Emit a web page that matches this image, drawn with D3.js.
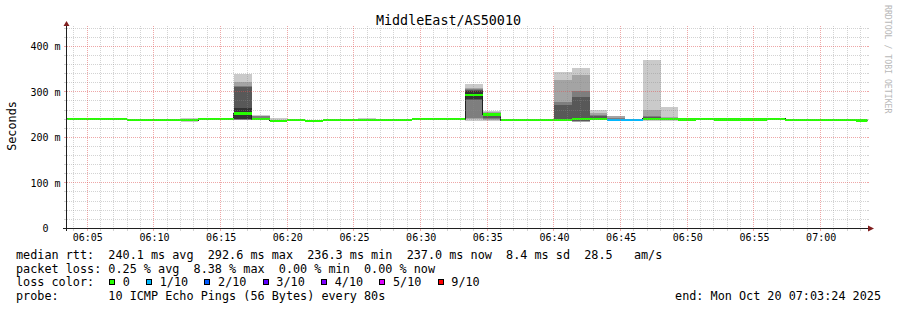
<!DOCTYPE html>
<html><head><meta charset="utf-8">
<script src="https://cdn.jsdelivr.net/npm/d3@7"></script>
<style>
html,body{margin:0;padding:0;background:#fff;}
svg{display:block;}
text{font-family:"DejaVu Sans Mono",monospace;}
</style></head><body>
<svg id="c" width="897" height="310"></svg>
<script>
// ---------------- data ----------------
const title = "MiddleEast/AS50010";
const day = "2025-10-20";
const viewStart = "06:03:30";
const viewEnd = "07:03:30";
const stepSeconds = 80;
const yMax = 446;
const binStart = ["06:02:40","06:04:00","06:05:20","06:06:40","06:08:00","06:09:20","06:10:40","06:12:00","06:13:20","06:14:40",
  "06:16:00","06:17:20","06:18:40","06:20:00","06:21:20","06:22:40","06:24:00","06:25:20","06:26:40","06:28:00",
  "06:29:20","06:30:40","06:32:00","06:33:20","06:34:40","06:36:00","06:37:20","06:38:40","06:40:00","06:41:20",
  "06:42:40","06:44:00","06:45:20","06:46:40","06:48:00","06:49:20","06:50:40","06:52:00","06:53:20","06:54:40",
  "06:56:00","06:57:20","06:58:40","07:00:00","07:01:20","07:02:40"];
// median rtt per bin (ms)
const medians = [240.5,240.5,240,240,237.5,237.5,237.5,238,240,240,
  252.5,240,236.5,237.5,236.3,237.5,237.5,238,238,238.5,
  240,240,240,292.5,250,237.5,237.5,237.5,238.5,240,
  240,238,238,241,239.5,239,241,239,239,239,
  240.5,237.5,237.5,237.5,237.5,237];
// lost pings per bin (out of 10)
const losses = [0,0,0,0,0,0,0,0,0,0, 0,0,0,0,0,0,0,0,0,0, 0,0,0,0,0,0,0,0,0,0,
  0,1,1,0,0,0,0,0,0,0, 0,0,0,0,0,0];
// sorted ping times per bin (ms), null = lost
const pings = [
  [238.5,239,239.5,240,240.5,240.5,241,241.5,242,242.5],
  [238,239,239.5,240,240.5,240.5,241,241.5,242,243],
  [238,238.5,239,239.5,240,240,240.5,241,241.5,242],
  [237.5,238.5,239,239.5,239.5,240.5,241,241,241.5,242.5],
  [235.5,236,236.5,237,237.5,237.5,238,238.5,239,239.5],
  [235,236,236.5,237,237.5,237.5,238,238,239,240],
  [235.5,236,236.5,237,237,238,238.5,238.5,239,239.5],
  [234.5,235,236,236.5,237.5,238.5,239,239.5,240,241.5],
  [238,238.5,239,239.5,240,240,240.5,241,241.5,242],
  [237.5,238.5,239,239.5,240,240,240.5,241,242,243],
  [237,238,239,240,241,264,310,312,321,340],
  [238,239,239,240,240,240,241,246,247,250],
  [234.5,235,235.5,236,236.5,236.5,237,237.5,238,243],
  [235.5,236,236.5,237,237.5,237.5,238,238.5,239,240],
  [234.5,235,235.5,236,236.3,236.3,236.5,237,237.5,238.5],
  [235.5,236,236.5,237,237.5,237.5,238,238.5,239,240],
  [235,236,236.5,237,237.5,237.5,238,238.5,239.5,240.5],
  [236,236.5,237,237.5,238,238,238.5,239,240,241.5],
  [236,236.5,237,237.5,238,238,238.5,239,239.5,240],
  [236.5,237,237.5,238,238.5,238.5,239,239.5,240,241],
  [238,238.5,239,239.5,240,240,240.5,241,241.5,242.5],
  [238,238.5,239,239.5,240,240,240.5,241,242,243],
  [237.5,238.5,239,239.5,240,240,240.5,241,241.5,242],
  [236,240,243,282,284,301,304,307,309,318],
  [236,238,240,242,248,252,253,254,255,257],
  [235.5,236,236.5,237,237.5,237.5,238,238.5,239,240],
  [235.5,236,236.5,237,237.5,237.5,238,238.5,239,239.5],
  [235,236,236.5,237,237.5,237.5,238,238.5,239,240],
  [235,236,236,237,238,239,272,278,327,343],
  [233,234,235,236,239.5,240.5,289,302,336,352],
  [237,238,238,239,239.5,240.5,247,248,254,259],
  [236,237,237.5,238,238,238.5,239,242,246,null],
  [236,237,237,237.5,238,238,238.5,239,241,null],
  [236,237,238,239,240.5,241.5,244,247,259,371],
  [236,237,238,238.5,239,240,240.5,241,244,266],
  [237,237.5,238,238.5,239,239,239.5,240,240.5,241.5],
  [239,239.5,240,240.5,241,241,241.5,242,242.5,243.5],
  [237,237.5,238,238.5,239,239,239.5,240,241,242],
  [237,237.5,238,238.5,239,239,239.5,240,240.5,241.5],
  [237,237.5,238,238.5,239,239,239.5,240,241,242.5],
  [238.5,239,239.5,240,240.5,240.5,241,241.5,242,243],
  [235.5,236,236.5,237,237.5,237.5,238,238.5,239,240],
  [235.5,236,236.5,237,237.5,237.5,238,238.5,239,239.5],
  [235.5,236,236.5,237,237.5,237.5,238,238.5,239,240],
  [235.5,236,236.5,237,237.5,237.5,238,238.5,239,239.5],
  [235,235.5,236,236.5,237,237,237.5,238,238.5,239.5]
];
const lossLevels = [0,1,2,3,4,5,9];
const lossLabels = ["0","1/10","2/10","3/10","4/10","5/10","9/10"];
const lossColors = ["#26ff00","#00b8ff","#0059ff","#5e00ff","#7e00ff","#dd00ff","#ff0000"];
const smokeColors = ["#cacaca","#a4a4a4","#7e7e7e","#585858","#323232"];
const statLines = [
  "median rtt:  240.1 ms avg  292.6 ms max  236.3 ms min  237.0 ms now  8.4 ms sd  28.5   am/s",
  "packet loss: 0.25 % avg  8.38 % max  0.00 % min  0.00 % now"
];
const lossTitle = "loss color:";
const probeLine = "probe:       10 ICMP Echo Pings (56 Bytes) every 80s";
const endLine = "end: Mon Oct 20 07:03:24 2025";
const yLabel = "Seconds";
const watermark = "RRDTOOL / TOBI OETIKER";

// ---------------- drawing ----------------
const svg = d3.select("#c");
svg.append("rect").attr("width",897).attr("height",310).attr("fill","#fff");
const parse = d3.timeParse("%Y-%m-%d %H:%M:%S");
const T = s => parse(day + " " + s);

const x = d3.scaleTime().domain([T(viewStart), T(viewEnd)]).range([67.33, 867.33]);
const y = d3.scaleLinear().domain([0, yMax]).range([228.33, 228.33 - yMax * 0.455]);
const L = x.range()[0], R = x.range()[1], B = y.range()[0], TOP = y.range()[1];

const bins = binStart.map((s, i) => {
  const t0 = T(s);
  return {t0, t1: new Date(t0.getTime() + stepSeconds * 1000), m: medians[i], loss: losses[i], p: pings[i]};
});

svg.append("defs").append("clipPath").attr("id","plotclip")
  .append("rect").attr("x", L).attr("y", TOP).attr("width", R - L).attr("height", B - TOP);
const plot = svg.append("g").attr("clip-path","url(#plotclip)");

// smoke
const gSmoke = plot.append("g").attr("shape-rendering","crispEdges");
bins.forEach(b => {
  for (let k = 0; k < 5; k++) {
    const lo = b.p[k], hi = b.p[9 - k];
    if (lo == null || hi == null) continue;
    gSmoke.append("rect")
      .attr("x", x(b.t0)).attr("width", x(b.t1) - x(b.t0))
      .attr("y", y(hi)).attr("height", Math.max(0, y(lo) - y(hi)))
      .attr("fill", smokeColors[k]);
  }
});

// median step line
const stepPts = bins.map(b => [b.t0, b.m]);
stepPts.push([bins[bins.length - 1].t1, bins[bins.length - 1].m]);
plot.append("path")
  .attr("d", d3.line().x(d => x(d[0])).y(d => y(d[1])).curve(d3.curveStepAfter)(stepPts))
  .attr("fill","none").attr("stroke","#202020").attr("stroke-width",1)
  .attr("shape-rendering","crispEdges");

// median loss-coloured band
const sw = 2.4;
const colorFor = loss => {
  let c = lossColors[0];
  lossLevels.forEach((lv, i) => { if (loss >= lv) c = lossColors[i]; });
  return c;
};
plot.append("g").attr("shape-rendering","crispEdges").selectAll("rect").data(bins).join("rect")
  .attr("x", b => x(b.t0)).attr("width", b => x(b.t1) - x(b.t0))
  .attr("y", b => y(b.m + sw)).attr("height", b => y(b.m - sw) - y(b.m + sw))
  .attr("fill", b => colorFor(b.loss));

// grid (drawn over data, rrdtool style)
const minorCol = "rgba(140,140,140,0.38)", majorCol = "rgba(222,79,79,0.5)";
const gGrid = svg.append("g").attr("shape-rendering","crispEdges").attr("stroke-width",1);
const py = v => Math.floor(y(v)) + 0.5;
const pxx = t => Math.floor(x(t)) + 0.5;
const majY = y.ticks(5), minY = y.ticks(22).filter(v => !majY.includes(v));
const majX = x.ticks(d3.timeMinute.every(5)).map(d => +d);
const minX = x.ticks(d3.timeMinute.every(1)).filter(d => !majX.includes(+d));
function hline(v, col) {
  if (v === 0) return;
  const yy = py(v);
  gGrid.append("line").attr("x1", L).attr("x2", R).attr("y1", yy).attr("y2", yy)
    .attr("stroke", col).attr("stroke-dasharray","1,1");
  gGrid.append("line").attr("x1", L - 3).attr("x2", L).attr("y1", yy).attr("y2", yy).attr("stroke", col);
  gGrid.append("line").attr("x1", R).attr("x2", R + 2).attr("y1", yy).attr("y2", yy).attr("stroke", col);
}
function vline(t, col) {
  const xx = pxx(t);
  gGrid.append("line").attr("x1", xx).attr("x2", xx).attr("y1", TOP + 0.5).attr("y2", B)
    .attr("stroke", col).attr("stroke-dasharray","1,1");
  gGrid.append("line").attr("x1", xx).attr("x2", xx).attr("y1", B).attr("y2", B + 2.5).attr("stroke", col);
}
minY.forEach(v => hline(v, minorCol));
minX.forEach(t => vline(t, minorCol));
majY.forEach(v => hline(v, majorCol));
majX.forEach(t => vline(new Date(t), majorCol));

// axes lines + arrows
const axisCol = "#1f1f1f", arrowCol = "#801f1f";
svg.append("line").attr("x1", 63).attr("x2", 868).attr("y1", Math.floor(B) + 0.5).attr("y2", Math.floor(B) + 0.5)
  .attr("stroke", axisCol).attr("shape-rendering","crispEdges");
svg.append("line").attr("x1", 66.5).attr("x2", 66.5).attr("y1", 25).attr("y2", 231)
  .attr("stroke", axisCol).attr("shape-rendering","crispEdges");
svg.append("path").attr("d","M868,225.5L874,228.5L868,231.5Z").attr("fill", arrowCol);
svg.append("path").attr("d","M63.5,26L66.5,21L69.5,26Z").attr("fill", arrowCol);

// tick labels
const yAxis = svg.append("g").attr("transform","translate(60.5,0)")
  .call(d3.axisLeft(y).tickValues(majY).tickSize(0).tickPadding(0)
    .tickFormat(v => v === 0 ? "0\u00a0\u00a0" : v + " m"));
yAxis.select(".domain").remove();
yAxis.attr("font-family","DejaVu Sans Mono").attr("font-size",10);
yAxis.selectAll("text").attr("dy","0.36em").attr("fill","#000");

const xAxis = svg.append("g").attr("transform","translate(0,233.4)")
  .call(d3.axisBottom(x).tickValues(majX.map(d => new Date(d))).tickSize(0).tickPadding(0)
    .tickFormat(d3.timeFormat("%H:%M")));
xAxis.select(".domain").remove();
xAxis.attr("font-family","DejaVu Sans Mono").attr("font-size",10);
xAxis.selectAll("text").attr("fill","#000");

// title, labels
svg.append("text").attr("x", 448.5).attr("y", 24.5).attr("text-anchor","middle")
  .attr("font-size", 13.4).attr("fill","#000").text(title);
svg.append("text").attr("transform","translate(15.5,126) rotate(-90)").attr("text-anchor","middle")
  .attr("font-size", 11.8).attr("fill","#000").text(yLabel);
svg.append("text").attr("transform","translate(885,5) rotate(90)")
  .attr("font-size", 8.2).attr("fill","#b8b8b8").text(watermark);

// legend
const legFont = 11.8;
const baselines = [259, 272.5, 286, 299.5];
statLines.forEach((s, i) => {
  svg.append("text").attr("x", 16).attr("y", baselines[i]).attr("font-size", legFont)
    .style("white-space","pre").attr("fill","#000").text(s);
});
svg.append("text").attr("x", 16).attr("y", baselines[2]).attr("font-size", legFont).attr("fill","#000").text(lossTitle);
let lx = 109;
lossLabels.forEach((lab, i) => {
  svg.append("rect").attr("x", lx + 0.5).attr("y", baselines[2] - 6.5).attr("width", 5).attr("height", 5)
    .attr("fill", lossColors[i]).attr("stroke","#000").attr("stroke-width",1).attr("shape-rendering","crispEdges");
  const tx = svg.append("text").attr("x", lx + 13.7).attr("y", baselines[2]).attr("font-size", legFont)
    .attr("fill","#000").text(lab);
  lx += 13.7 + tx.node().getComputedTextLength() + 16.2;
});
svg.append("text").attr("x", 16).attr("y", baselines[3]).attr("font-size", legFont)
  .style("white-space","pre").attr("fill","#000").text(probeLine);
svg.append("text").attr("x", 881).attr("y", baselines[3]).attr("font-size", legFont)
  .attr("text-anchor","end").attr("fill","#000").text(endLine);
</script>
</body></html>
